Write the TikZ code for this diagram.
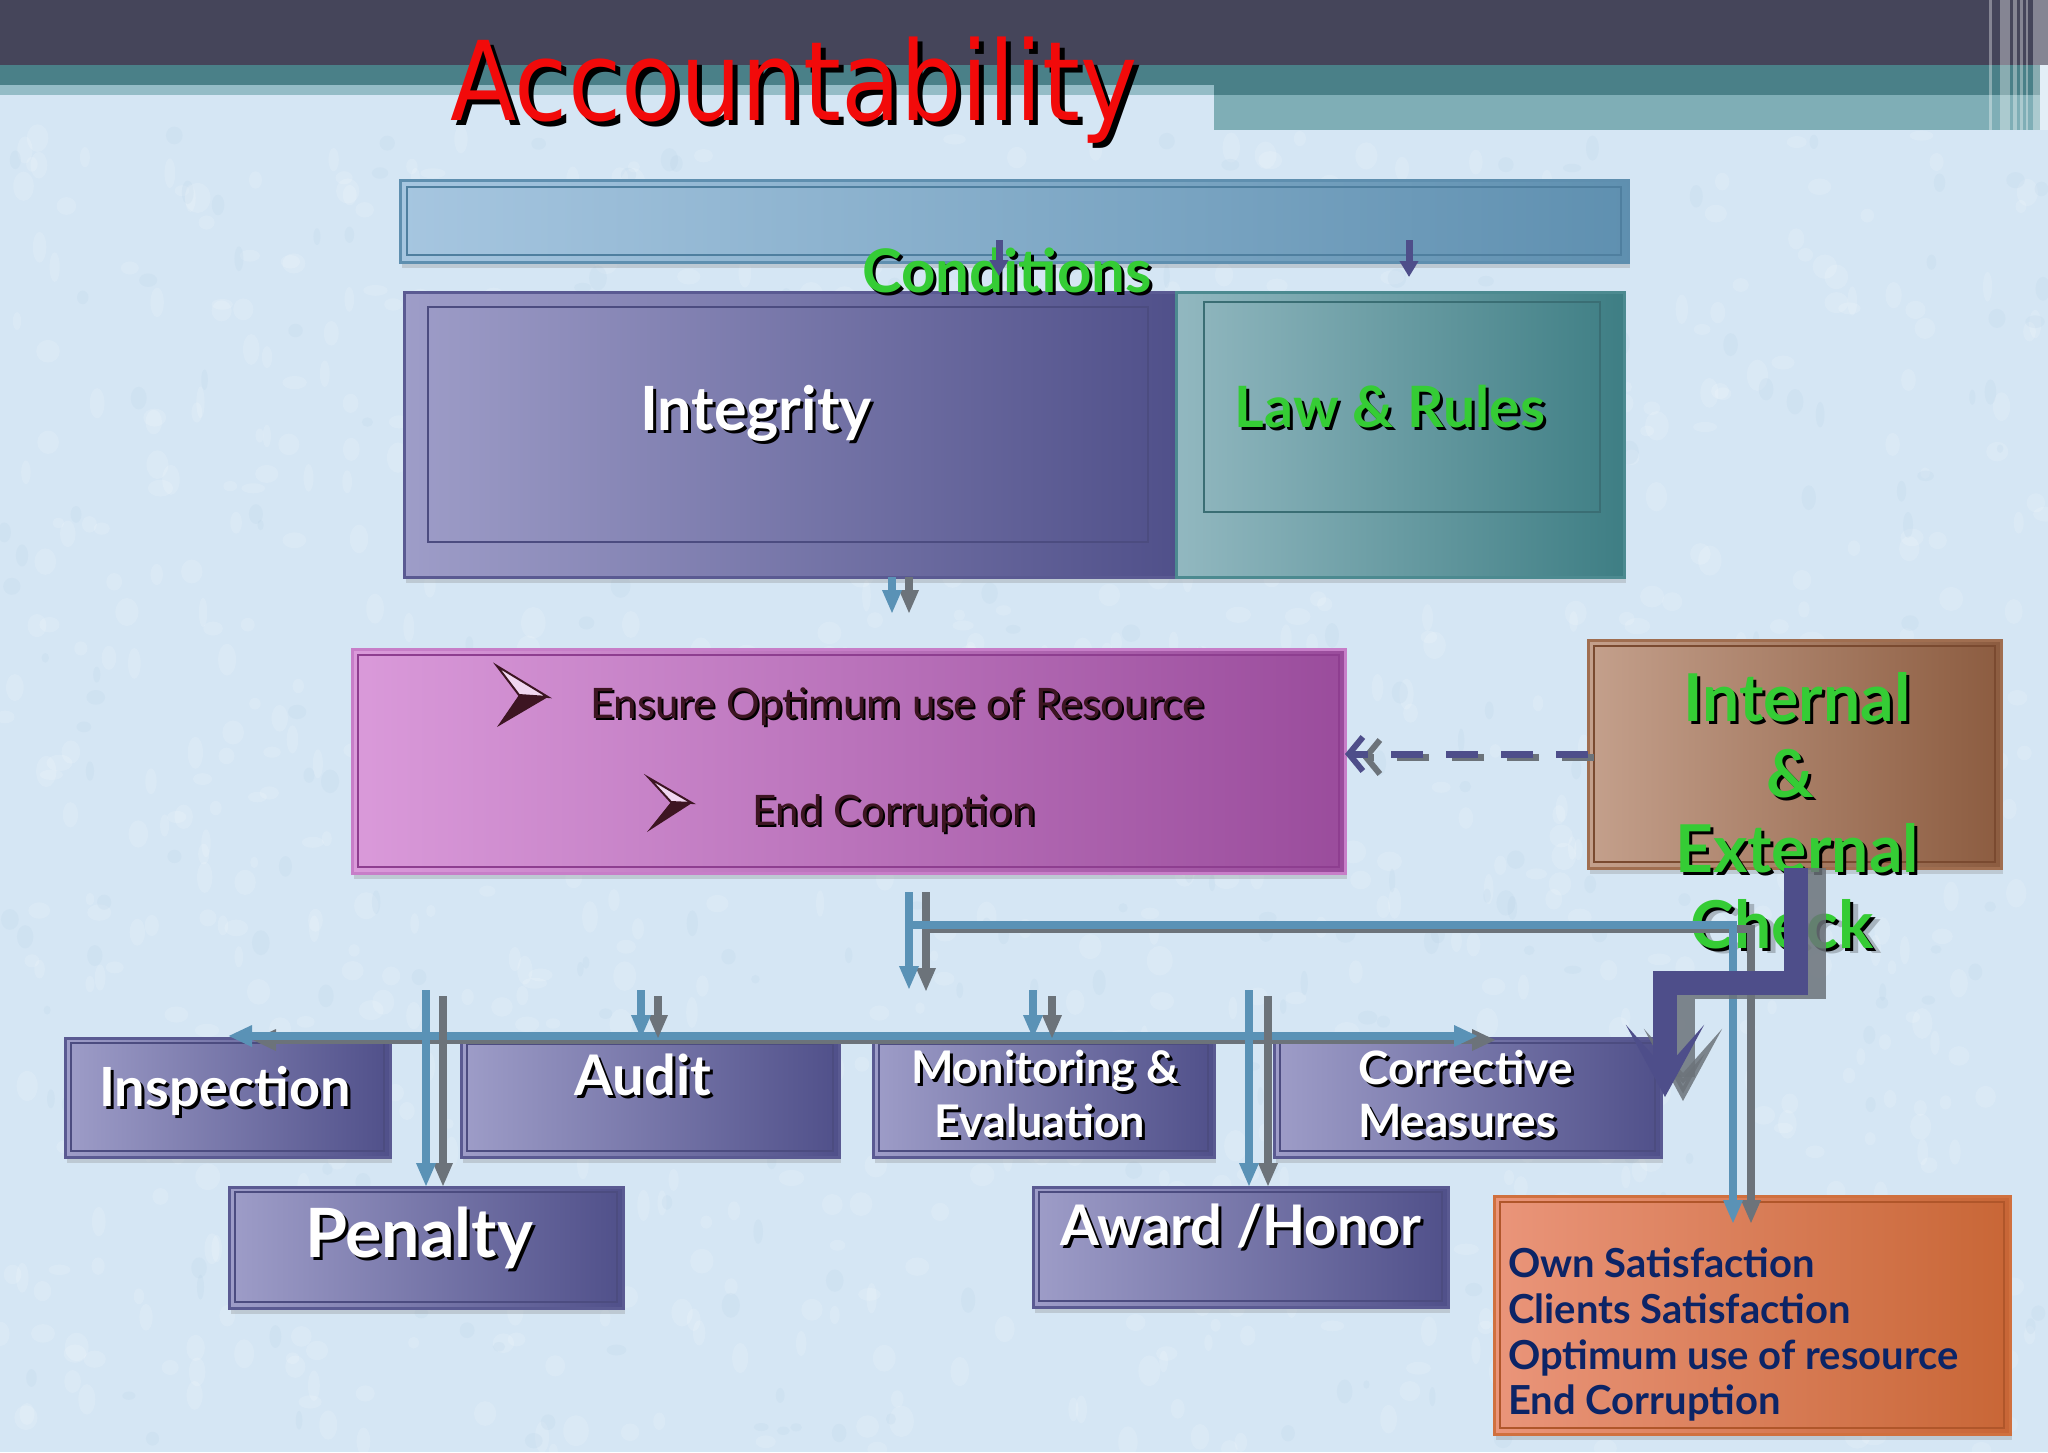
\documentclass[tikz,border=0pt]{standalone}
\usepackage{fontspec}
\setmainfont{Lato}
\newfontfamily\titlefont{DejaVu Sans}
\usetikzlibrary{arrows.meta,shadows,calc}

\definecolor{bgblue}{HTML}{D5E6F4}
\definecolor{topdark}{HTML}{45455A}
\definecolor{teal1}{HTML}{4A8088}
\definecolor{teal2}{HTML}{7FAEB6}
\definecolor{titlered}{HTML}{F20A0A}
\definecolor{condgreen}{HTML}{35CC35}
\definecolor{navyline}{HTML}{4E4E8A}
\definecolor{blueline}{HTML}{5A92B6}
\definecolor{grayline}{HTML}{6C737A}
\definecolor{bullbrown}{HTML}{3D1522}
\definecolor{navytext}{HTML}{0C2466}
\definecolor{pleft}{HTML}{9E9DC8}
\definecolor{pright}{HTML}{50508A}
\definecolor{pbord}{HTML}{5A5A92}
\definecolor{innpurple}{HTML}{4C4C80}
\definecolor{tleft}{HTML}{92B8C0}
\definecolor{tright}{HTML}{3E7E84}
\definecolor{tbord}{HTML}{4C8A90}
\definecolor{innteal}{HTML}{3A6E74}
\definecolor{bleft}{HTML}{A6C6E0}
\definecolor{bright}{HTML}{5F90B0}
\definecolor{bbord}{HTML}{5F8FAF}
\definecolor{innblue}{HTML}{4F7F9F}
\definecolor{mleft}{HTML}{DA9ADA}
\definecolor{mright}{HTML}{9A4C9C}
\definecolor{mbord}{HTML}{C77EC8}
\definecolor{innmag}{HTML}{8E3E90}
\definecolor{brleft}{HTML}{C4A08C}
\definecolor{brright}{HTML}{8C5C40}
\definecolor{brbord}{HTML}{A06E50}
\definecolor{innbrown}{HTML}{7A4A30}
\definecolor{oleft}{HTML}{EA957A}
\definecolor{oright}{HTML}{C86636}
\definecolor{obord}{HTML}{D0703E}
\definecolor{innorange}{HTML}{B0562A}

\newcommand\fs[2]{\fontsize{#1}{#2}\selectfont}
\newcommand\shtext[6]{%
  \node[inner sep=0pt, #2, text=black] (#1-sh) at ($(#3)+(#5)$) {#6};
  \node[inner sep=0pt, #2, text=#4] (#1) at (#3) {#6};}
\newcommand\panel[6]{%
  \path (#3,#4) node[#2, anchor=north west, inner sep=0pt, outer sep=0pt,
     minimum width={(#5-#3)*1pt}, minimum height={(#6-#4)*1pt}] (#1) {};}
\newcommand\inframe[6]{%
  \draw[draw=#2, line width=2.5pt] ([shift={(#3,#4)}]#1.north west) rectangle ([shift={(-#5,-#6)}]#1.south east);}

\tikzset{
  dshadow/.style={drop shadow={shadow xshift=2pt, shadow yshift=-6pt, opacity=0.28}},
  boxpurple/.style={draw=pbord, line width=3pt, left color=pleft, right color=pright, dshadow},
  boxteal/.style={draw=tbord, line width=3pt, left color=tleft, right color=tright, dshadow},
  boxblue/.style={draw=bbord, line width=3pt, left color=bleft, right color=bright, dshadow},
  boxmag/.style={draw=mbord, line width=3pt, left color=mleft, right color=mright, dshadow},
  boxbrown/.style={draw=brbord, line width=3pt, left color=brleft, right color=brright, dshadow},
  boxorange/.style={draw=obord, line width=3pt, left color=oleft, right color=oright, dshadow},
  bluearr/.style={draw=blueline, line width=8pt, -{Triangle[length=24pt,width=18pt]}},
  grayarr/.style={draw=grayline, line width=8pt, -{Triangle[length=24pt,width=18pt]}},
  navysmall/.style={draw=navyline, line width=7pt, -{Triangle[length=16pt,width=18pt]}},
  dashnavy/.style={draw=navyline, line width=7pt, dash pattern=on 32pt off 23pt, -{Straight Barb[length=14pt,width=34pt,line width=6pt]}},
  dashgray/.style={draw=grayline, line width=7pt, dash pattern=on 32pt off 23pt, -{Straight Barb[length=14pt,width=34pt,line width=6pt]}},
  thicknavy/.style={draw=navyline, line width=24pt, -{Stealth[length=72pt,width=78pt,inset=44pt]}},
  thickgray/.style={draw=grayline, opacity=0.85, line width=24pt, -{Stealth[length=72pt,width=78pt,inset=44pt]}},
  big/.style={font=\bfseries\fs{#1}{#1}},
}

\begin{document}
\begin{tikzpicture}[x=1pt, y=-1pt]
\useasboundingbox (0,0) rectangle (2048,1452);
\fill[bgblue] (0,0) rectangle (2048,1452);
% background texture
\pgfmathsetseed{11}
\foreach \i in {1,...,900}
  \fill[white, opacity=0.14] ({rnd*2048},{130+rnd*1322}) ellipse ({4+rnd*9} and {5+rnd*11});
\foreach \i in {1,...,300}
  \fill[bleft, opacity=0.12] ({rnd*2048},{130+rnd*1322}) ellipse ({3+rnd*7} and {4+rnd*9});
% header bands
\fill[topdark] (0,0) rectangle (2048,65);
\fill[teal1] (0,65) rectangle (2040,95);
\fill[teal2!75!bgblue] (0,85) rectangle (1214,95);
\fill[teal2] (1214,95) rectangle (2040,130);
\foreach \a/\b in {1989/1992,2000/2010,2013/2017,2020/2023,2026/2028,2033/2048}
  \fill[white, opacity=0.35] (\a,0) rectangle (\b,130);

% title
\shtext{title}{anchor=base west, font=\titlefont\fs{110}{120}}{450,120}{titlered}{5,5}{\scalebox{0.88}[1]{Accountability}}

% panels
\panel{bar}{boxblue}{400}{180}{1628}{262}
\inframe{bar}{innblue}{7}{7}{7}{7}
\panel{integ}{boxpurple}{404}{292}{1176}{577}
\inframe{integ}{innpurple}{24}{15}{28}{35}
\panel{law}{boxteal}{1176}{292}{1624}{577}
\inframe{law}{innteal}{28}{10}{24}{65}
\panel{goal}{boxmag}{352}{649}{1345}{873}
\inframe{goal}{innmag}{6}{6}{6}{6}
\panel{check}{boxbrown}{1588}{640}{2001}{868}
\inframe{check}{innbrown}{6}{6}{6}{6}
\panel{insp}{boxpurple}{65}{1038}{390}{1157}
\inframe{insp}{innpurple}{6}{5}{6}{6}
\panel{audit}{boxpurple}{461}{1039}{839}{1157}
\inframe{audit}{innpurple}{6}{5}{6}{6}
\panel{monit}{boxpurple}{873}{1039}{1214}{1157}
\inframe{monit}{innpurple}{6}{5}{6}{6}
\panel{corr}{boxpurple}{1274}{1038}{1661}{1157}
\inframe{corr}{innpurple}{6}{5}{6}{6}
\panel{penal}{boxpurple}{229}{1187}{623}{1308}
\inframe{penal}{innpurple}{6}{5}{6}{6}
\panel{award}{boxpurple}{1033}{1187}{1448}{1307}
\inframe{award}{innpurple}{6}{5}{6}{6}
\panel{result}{boxorange}{1494}{1196}{2010}{1434}
\inframe{result}{innorange}{6}{6}{6}{6}

% texts
\shtext{tcond}{anchor=base, big=60}{1007,292}{condgreen}{3,3}{Conditions}
\shtext{tinteg}{anchor=base, big=61}{756,430}{white}{3,3}{Integrity}
\shtext{tlaw}{anchor=base, big=57}{1390,427}{condgreen}{3,3}{Law \& Rules}
\shtext{tens}{anchor=base west, font=\fs{42}{48}}{590,718}{bullbrown}{2,2}{Ensure Optimum use of Resource}
\shtext{tend}{anchor=base west, font=\fs{42}{48}}{752,825}{bullbrown}{2,2}{End Corruption}
\shtext{tint}{anchor=base, big=66}{1797,721}{condgreen}{3,3}{Internal}
\shtext{tamp}{anchor=base, big=66}{1790,797}{condgreen}{3,3}{\&}
\shtext{text}{anchor=base, big=66}{1797,872}{condgreen}{3,3}{External}
\node[anchor=base, big=66, text=black, opacity=0.22] (tchk-blur) at (1790,953) {Check};
\shtext{tchk}{anchor=base, big=66}{1782,948}{condgreen}{3,3}{Check}
\shtext{tinsp}{anchor=base, big=54}{225,1106}{white}{3,3}{Inspection}
\shtext{taud}{anchor=base, big=56}{643,1095}{white}{3,3}{Audit}
\shtext{tmon}{anchor=base, big=45}{1045,1083}{white}{3,3}{Monitoring \&}
\shtext{teva}{anchor=base, big=45}{1040,1137}{white}{3,3}{Evaluation}
\shtext{tcor}{anchor=base west, big=46}{1358,1084}{white}{3,3}{Corrective}
\shtext{tmea}{anchor=base west, big=46}{1358,1137}{white}{3,3}{Measures}
\shtext{tpen}{anchor=base, big=68}{419,1257}{white}{3,3}{Penalty}
\shtext{tawd}{anchor=base, big=56}{1241,1245}{white}{3,3}{Award /Honor}
\node[anchor=base west, big=40, text=navytext, inner sep=0pt] (r1) at (1508,1277) {Own Satisfaction};
\node[anchor=base west, big=40, text=navytext, inner sep=0pt] (r2) at (1508,1323) {Clients Satisfaction};
\node[anchor=base west, big=40, text=navytext, inner sep=0pt] (r3) at (1508,1369) {Optimum use of resource};
\node[anchor=base west, big=40, text=navytext, inner sep=0pt] (r4) at (1508,1414) {End Corruption};

% bullets
\fill[bullbrown] (519,695) -- (548,697) -- (497,727) -- cycle;
\filldraw[fill=white!60!mleft, draw=bullbrown, line width=2pt, line join=miter] (497,666) -- (548,697) -- (519,695) -- cycle;
\fill[bullbrown] (671,802) -- (692,803) -- (647,832) -- cycle;
\filldraw[fill=white!60!mleft, draw=bullbrown, line width=2pt, line join=miter] (649,778) -- (692,803) -- (671,802) -- cycle;

% connectors
\coordinate (a1s) at (999,240); \coordinate (a1e) at (999,276);
\coordinate (a2s) at (1409,240); \coordinate (a2e) at (1409,277);
\draw[navysmall] (a1s) -- (a1e);
\draw[navysmall] (a2s) -- (a2e);

\coordinate (ib) at (892,614); \coordinate (ig) at (909,614);
\draw[grayarr] (integ.south -| ig) -- (ig);
\draw[bluearr] (integ.south -| ib) -- (ib);

\coordinate (gb) at (909,990); \coordinate (gg) at (926,992);
\draw[grayarr] ([yshift=-19pt]goal.south -| gg) -- (gg);
\draw[bluearr] ([yshift=-19pt]goal.south -| gb) -- (gb);

\coordinate (hg) at (926,929); \coordinate (hgc) at (1751,929);
\draw[grayarr] (hg) -- (hgc) -- ([yshift=-28pt]result.north -| hgc);
\coordinate (hb) at (909,925); \coordinate (hc) at (1733,925);
\draw[bluearr] (hb) -- (hc) -- ([yshift=-28pt]result.north -| hc);

\coordinate (rlg) at (252,1040); \coordinate (rrg) at (1496,1040);
\draw[grayarr, {Triangle[length=24pt,width=20pt]}-{Triangle[length=24pt,width=20pt]}] (rlg) -- (rrg);
\coordinate (rl) at (228,1036); \coordinate (rr) at (1478,1036);
\draw[bluearr, {Triangle[length=24pt,width=20pt]}-{Triangle[length=24pt,width=20pt]}] (rl) -- (rr);

\foreach \n/\b/\g/\t in {p/426/443/penal, a/641/658/audit, m/1033/1052/monit, w/1249/1268/award}{
  \coordinate (\n b) at (\b,990);
  \coordinate (\n g) at (\g,996);
  \draw[grayarr] (\n g) -- (\n g |- \t.north);
  \draw[bluearr] (\n b) -- (\n b |- \t.north);
}

\draw[dashgray] ([shift={(6,3)}]check.west) -- ([shift={(17,3)}]check.west -| goal.east);
\draw[dashnavy] (check.west) -- (check.west -| goal.east);

\coordinate (l1) at (1796,983); \coordinate (l2) at (1665,983); \coordinate (l3) at (1665,1097);
\coordinate (l1g) at (1814,987); \coordinate (l2g) at (1683,987); \coordinate (l3g) at (1683,1101);
\draw[thickgray, line join=miter] (check.south -| l1g) -- (l1g) -- (l2g) -- (l3g);
\draw[thicknavy, line join=miter] (check.south -| l1) -- (l1) -- (l2) -- (l3);
\end{tikzpicture}
\end{document}
